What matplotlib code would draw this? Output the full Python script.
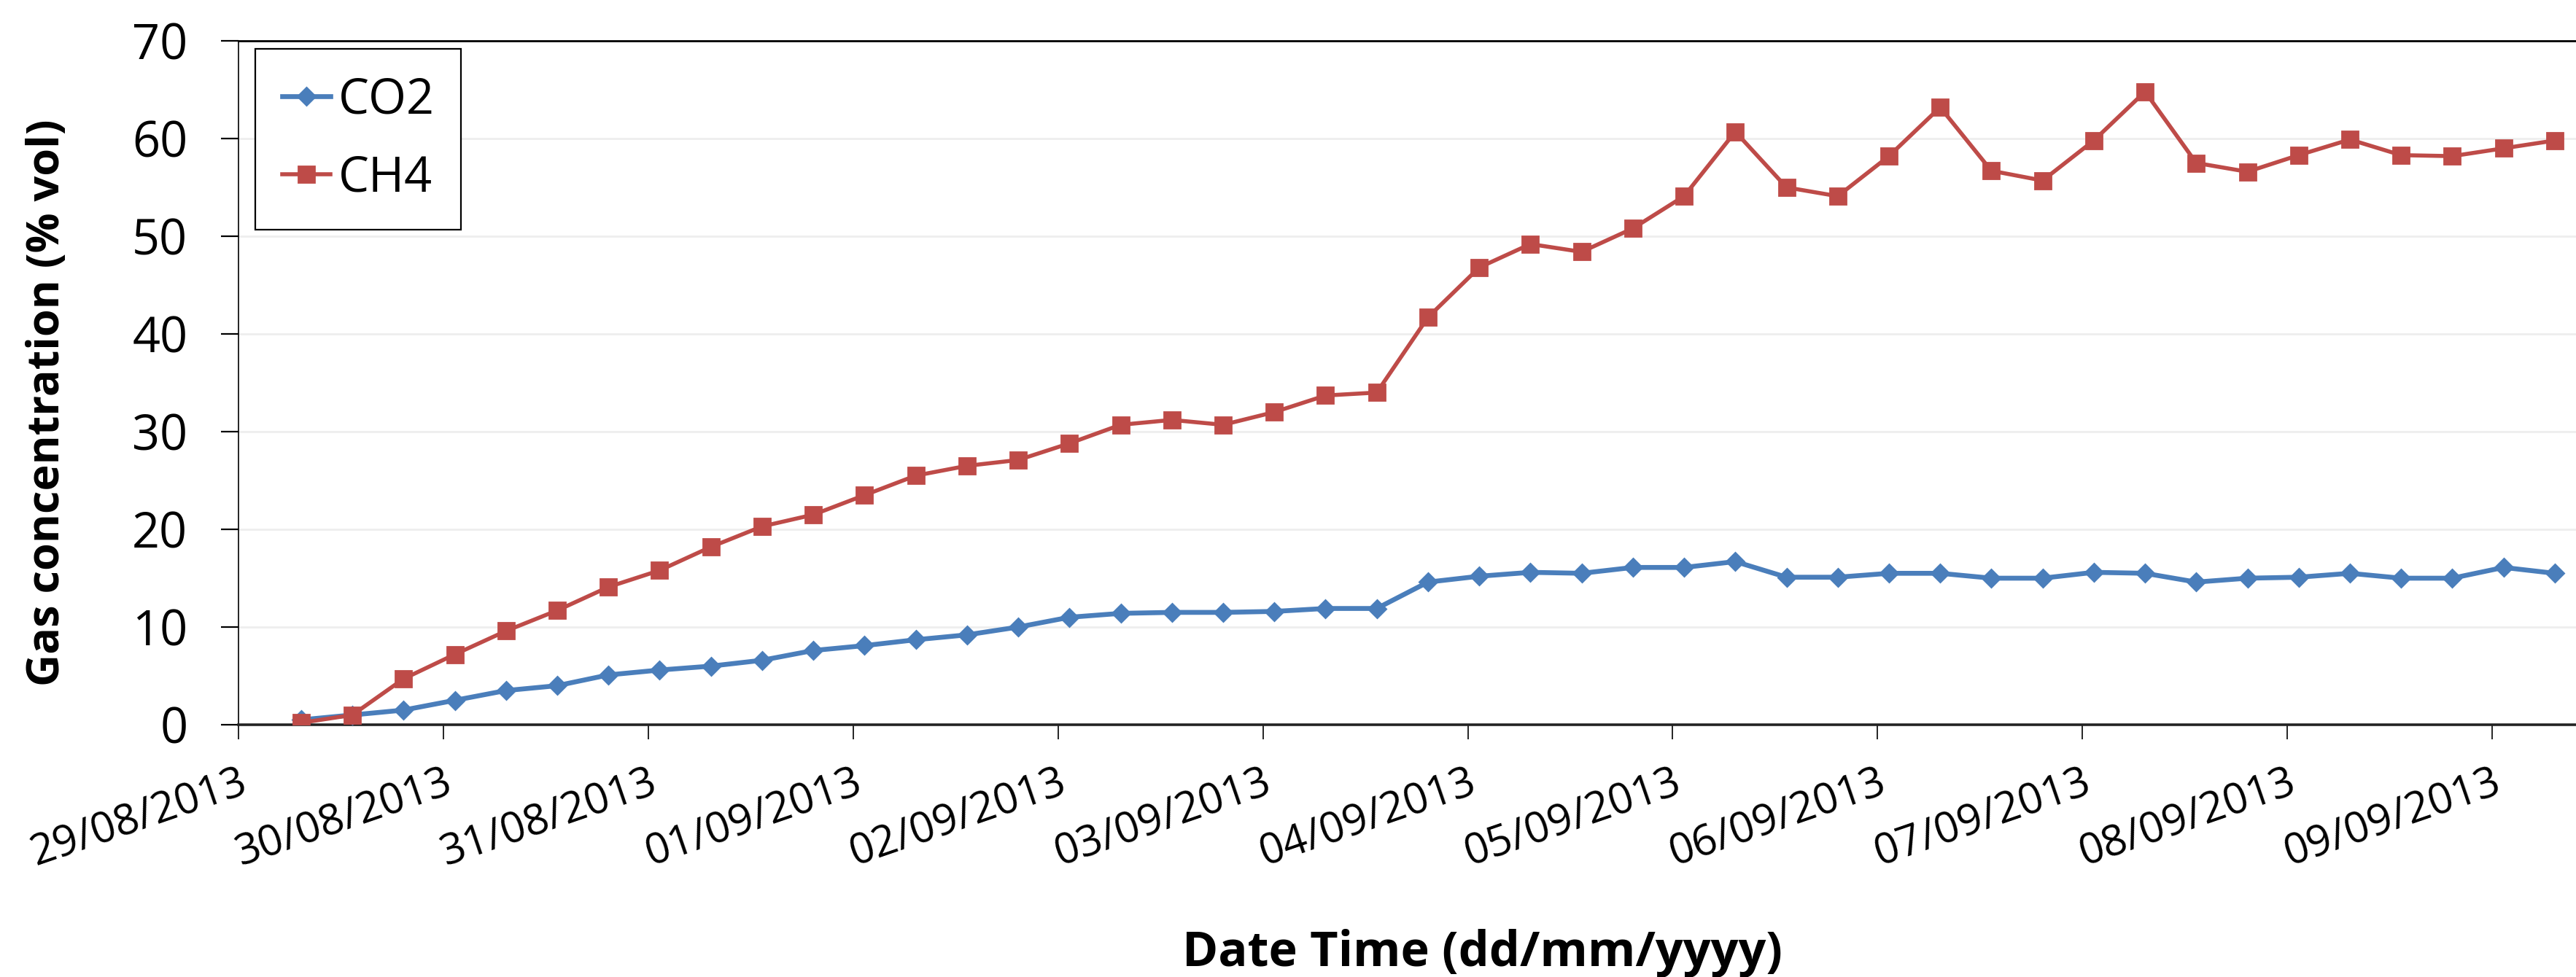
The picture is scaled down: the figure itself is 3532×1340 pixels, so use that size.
import matplotlib
matplotlib.use("Agg")
import matplotlib.pyplot as plt
import matplotlib.dates as mdates
import pandas as pd

plt.rcParams['font.family'] = ['Open Sans', 'DejaVu Sans']

# sampling times (every 6 h)
times = [
    "2013-08-29 07:20", "2013-08-29 13:20", "2013-08-29 19:20",
    "2013-08-30 01:20", "2013-08-30 07:20", "2013-08-30 13:20", "2013-08-30 19:20",
    "2013-08-31 01:20", "2013-08-31 07:20", "2013-08-31 13:20", "2013-08-31 19:20",
    "2013-09-01 01:20", "2013-09-01 07:20", "2013-09-01 13:20", "2013-09-01 19:20",
    "2013-09-02 01:20", "2013-09-02 07:20", "2013-09-02 13:20", "2013-09-02 19:20",
    "2013-09-03 01:20", "2013-09-03 07:20", "2013-09-03 13:20", "2013-09-03 19:20",
    "2013-09-04 01:20", "2013-09-04 07:20", "2013-09-04 13:20", "2013-09-04 19:20",
    "2013-09-05 01:20", "2013-09-05 07:20", "2013-09-05 13:20", "2013-09-05 19:20",
    "2013-09-06 01:20", "2013-09-06 07:20", "2013-09-06 13:20", "2013-09-06 19:20",
    "2013-09-07 01:20", "2013-09-07 07:20", "2013-09-07 13:20", "2013-09-07 19:20",
    "2013-09-08 01:20", "2013-09-08 07:20", "2013-09-08 13:20", "2013-09-08 19:20",
    "2013-09-09 01:20", "2013-09-09 07:20",
]

co2 = [0.5, 1.0, 1.5, 2.5, 3.5, 4.0, 5.1, 5.6, 6.0, 6.6,
       7.6, 8.1, 8.7, 9.2, 10.0, 11.0, 11.4, 11.5, 11.5, 11.6,
       11.9, 11.9, 14.6, 15.2, 15.6, 15.5, 16.1, 16.1, 16.7, 15.1,
       15.1, 15.5, 15.5, 15.0, 15.0, 15.6, 15.5, 14.6, 15.0, 15.1,
       15.5, 15.0, 15.0, 16.1, 15.5]

ch4 = [0.2, 1.0, 4.7, 7.2, 9.6, 11.7, 14.1, 15.8, 18.2, 20.3,
       21.5, 23.5, 25.5, 26.5, 27.1, 28.8, 30.7, 31.2, 30.7, 32.0,
       33.7, 34.0, 41.7, 46.8, 49.2, 48.4, 50.8, 54.1, 60.7, 55.0,
       54.1, 58.2, 63.2, 56.7, 55.7, 59.8, 64.8, 57.5, 56.6, 58.3,
       59.9, 58.3, 58.2, 59.0, 59.8]

x_start = "2013-08-29 00:00"
x_end = "2013-09-09 09:49"
y_ticks = [0, 10, 20, 30, 40, 50, 60, 70]

t = pd.to_datetime(times)

fig = plt.figure(figsize=(17.66, 6.70), dpi=200)
ax = fig.add_axes([0.0926, 0.2582, 0.9074, 0.7000])

ax.plot(t, co2, color='#4A7EBB', lw=2.4, marker='D', ms=6.3, label='CO2', zorder=3)
ax.plot(t, ch4, color='#BE4B48', lw=2.0, marker='s', ms=7.6, label='CH4', zorder=4)

ax.set_xlim(pd.Timestamp(x_start), pd.Timestamp(x_end))
ax.set_ylim(0, 70)
ax.set_yticks(y_ticks)
ax.yaxis.grid(True, color='#EEEEEE', lw=1.0, zorder=0)
ax.set_axisbelow(True)

ax.xaxis.set_major_locator(mdates.DayLocator())
ax.xaxis.set_major_formatter(mdates.DateFormatter('%d/%m/%Y'))

ax.spines['right'].set_visible(False)
ax.spines['top'].set_linewidth(1.0)
ax.spines['left'].set_linewidth(0.6)
ax.spines['bottom'].set_linewidth(1.3)
ax.spines['bottom'].set_color('#222222')

ax.tick_params(axis='y', direction='out', length=8.6, width=0.8, pad=16.5, labelsize=24)
ax.tick_params(axis='x', direction='out', length=7.2, width=0.6, pad=11, labelsize=21)
for lab in ax.get_xticklabels():
    lab.set_rotation(19)
    lab.set_ha('right')
    lab.set_va('top')
    lab.set_rotation_mode('anchor')

ax.set_ylabel('Gas concentration (% vol)', fontsize=22, fontweight='bold', va='center')
ax.yaxis.set_label_coords(-0.0817, 0.471)
ax.set_xlabel('Date Time (dd/mm/yyyy)', fontsize=24, fontweight='bold', va='baseline')
ax.xaxis.set_label_coords(0.532, -0.3529)

leg = ax.legend(loc='upper left', bbox_to_anchor=(0.0072, 0.9883), borderaxespad=0,
                fontsize=24, frameon=True, fancybox=False, edgecolor='black',
                framealpha=1, borderpad=0.55, labelspacing=0.6,
                handlelength=1.0, handletextpad=0.15, numpoints=1)
leg.get_frame().set_linewidth(0.8)

fig.savefig('out.png', dpi=200)
